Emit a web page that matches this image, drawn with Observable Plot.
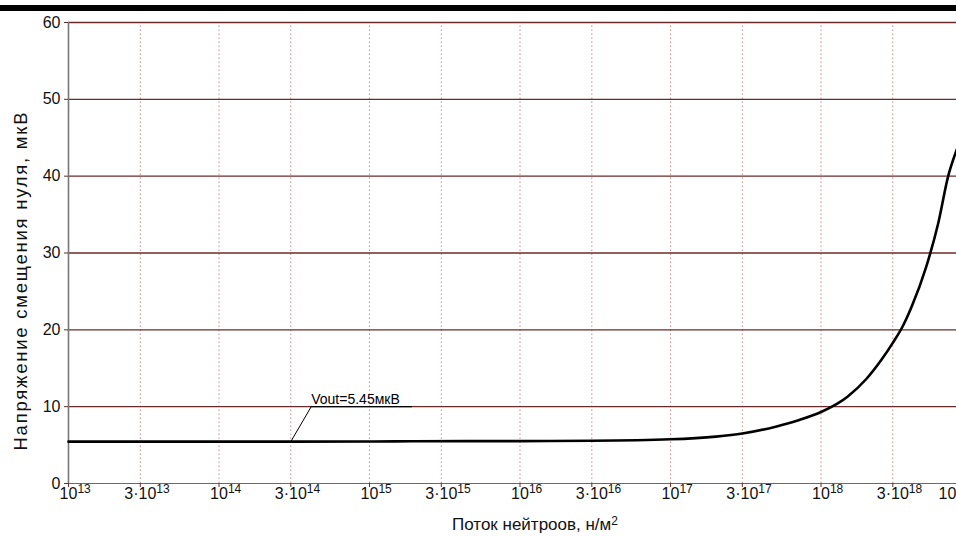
<!DOCTYPE html>
<html>
<head>
<meta charset="utf-8">
<script src="https://cdn.jsdelivr.net/npm/d3@7"></script>
<script src="https://cdn.jsdelivr.net/npm/@observablehq/plot@0.6"></script>
<style>
  html, body { margin: 0; padding: 0; background: #fff; }
  #wrap { position: relative; width: 956px; height: 536px; overflow: hidden; background: #fff; }
  #bar { position: absolute; left: 0; top: 5px; width: 956px; height: 6px; background: #000; z-index: 2; }
  #wrap svg { position: absolute; left: 0; top: 0; max-width: none !important; }
</style>
</head>
<body>
<div id="wrap"><div id="bar"></div></div>
<script>
// ---- data ----
const flux = [1e13, 1e14, 1e15, 2e15, 1e16, 3e16, 1e17, 2e17, 3e17, 5e17, 7e17, 1e18, 1.5e18, 2e18, 2.5e18, 3e18, 3.5e18, 4e18, 5e18, 6e18, 7e18, 8e18];
const vout = [5.45, 5.45, 5.46, 5.5, 5.52, 5.56, 5.75, 6.1, 6.5, 7.4, 8.2, 9.3, 11.3, 13.6, 16.0, 18.3, 20.5, 23.0, 28.2, 33.8, 40.0, 43.5];

const xTicks = [1e13, 3e13, 1e14, 3e14, 1e15, 3e15, 1e16, 3e16, 1e17, 3e17, 1e18, 3e18, 1e19];
const xTickLabels = ["10|13", "3·10|13", "10|14", "3·10|14", "10|15", "3·10|15", "10|16", "3·10|16", "10|17", "3·10|17", "10|18", "3·10|18", "10|19"];
const yTicks = [0, 10, 20, 30, 40, 50, 60];
const yGrid = [10, 20, 30, 40, 50, 60];

const annLeaderX = [3e14, 4.1e14];
const annLeaderY = [5.45, 10];
const annUnderX = [4.1e14, 1.9e15];
const annUnderY = [10, 10];
const annLabel = "Vout=5.45мкВ";

const xTitle = "Поток нейтроов, н/м";
const xTitleSup = "2";
const yTitle = "Напряжение смещения нуля, мкВ";

// ---- build ----
const curve = flux.map((f, i) => ({f, v: vout[i]}));
const labelMap = new Map(xTicks.map((t, i) => [t, xTickLabels[i]]));
const grid = "#6e2a2a";

const svg = Plot.plot({
  width: 1000,
  height: 536,
  marginTop: 22,
  marginBottom: 53,
  marginLeft: 68,
  marginRight: 29,
  style: {fontFamily: "'Liberation Sans', Arial, sans-serif", fontSize: "16px", color: "#111", background: "transparent", maxWidth: "none"},
  x: {type: "log", domain: [1e13, 1e19]},
  y: {domain: [0, 60]},
  marks: [
    Plot.ruleX(xTicks.slice(1), {y1: 0, y2: 60, stroke: "#c48f8f", strokeDasharray: "1.5,2.5", strokeWidth: 1}),
    Plot.ruleY(yGrid, {stroke: grid, strokeWidth: 1.4}),
    Plot.ruleY([0], {stroke: "#6a6a6a", strokeWidth: 1.2}),
    Plot.ruleX([1e13], {y1: 0, y2: 60, stroke: "#777", strokeWidth: 1.6}),
    Plot.axisX({ticks: xTicks, tickFormat: () => "", tickSize: 4, stroke: grid, label: null}),
    Plot.text(xTicks, {x: d => d, y: 0, text: d => labelMap.get(d), lineAnchor: "top", dy: 4, fontSize: 16, fill: "#111"}),
    Plot.axisY({ticks: yTicks, tickSize: 4, stroke: grid, fill: "#111", tickPadding: 4, fontSize: 16, label: null}),
    Plot.line(curve, {x: "f", y: "v", stroke: "#000", strokeWidth: 2.6, curve: "monotone-x"}),
    Plot.line(annLeaderX.map((x, i) => ({x, y: annLeaderY[i]})), {x: "x", y: "y", stroke: "#000", strokeWidth: 1}),
    Plot.line(annUnderX.map((x, i) => ({x, y: annUnderY[i]})), {x: "x", y: "y", stroke: "#000", strokeWidth: 1.2}),
    Plot.text([annLabel], {x: annUnderX[0], y: annUnderY[0], text: d => d, textAnchor: "start", lineAnchor: "bottom", dy: -3, fontSize: 14, fill: "#000"})
  ]
});

document.getElementById("wrap").appendChild(svg);

// superscript tick labels
const ns = "http://www.w3.org/2000/svg";
const texts = Array.from(svg.querySelectorAll("text")).filter(t => t.textContent.includes("|"));
texts.forEach((t, i) => {
  const [base, sup] = t.textContent.split("|");
  t.textContent = "";
  const b = document.createElementNS(ns, "tspan");
  b.textContent = base;
  t.appendChild(b);
  const s = document.createElementNS(ns, "tspan");
  s.textContent = sup;
  s.setAttribute("dy", "-0.45em");
  s.setAttribute("font-size", "12");
  t.appendChild(s);
  const w = b.getComputedTextLength();
  t.setAttribute("text-anchor", "start");
  t.setAttribute("dx", i === texts.length - 1 ? -33 : -w / 2);
});

// axis titles
const root = d3.select(svg);
const xt = root.append("text")
  .attr("x", 452).attr("y", 530)
  .attr("font-size", 17).attr("fill", "#111").attr("text-anchor", "start");
xt.append("tspan").text(xTitle);
xt.append("tspan").attr("dy", "-0.42em").attr("font-size", 12).text(xTitleSup);

root.append("text")
  .attr("transform", "translate(27,281.5) rotate(-90)")
  .attr("font-size", 18.5).attr("fill", "#111").attr("text-anchor", "middle")
  .attr("textLength", 338).attr("lengthAdjust", "spacing")
  .text(yTitle);
</script>
</body>
</html>
